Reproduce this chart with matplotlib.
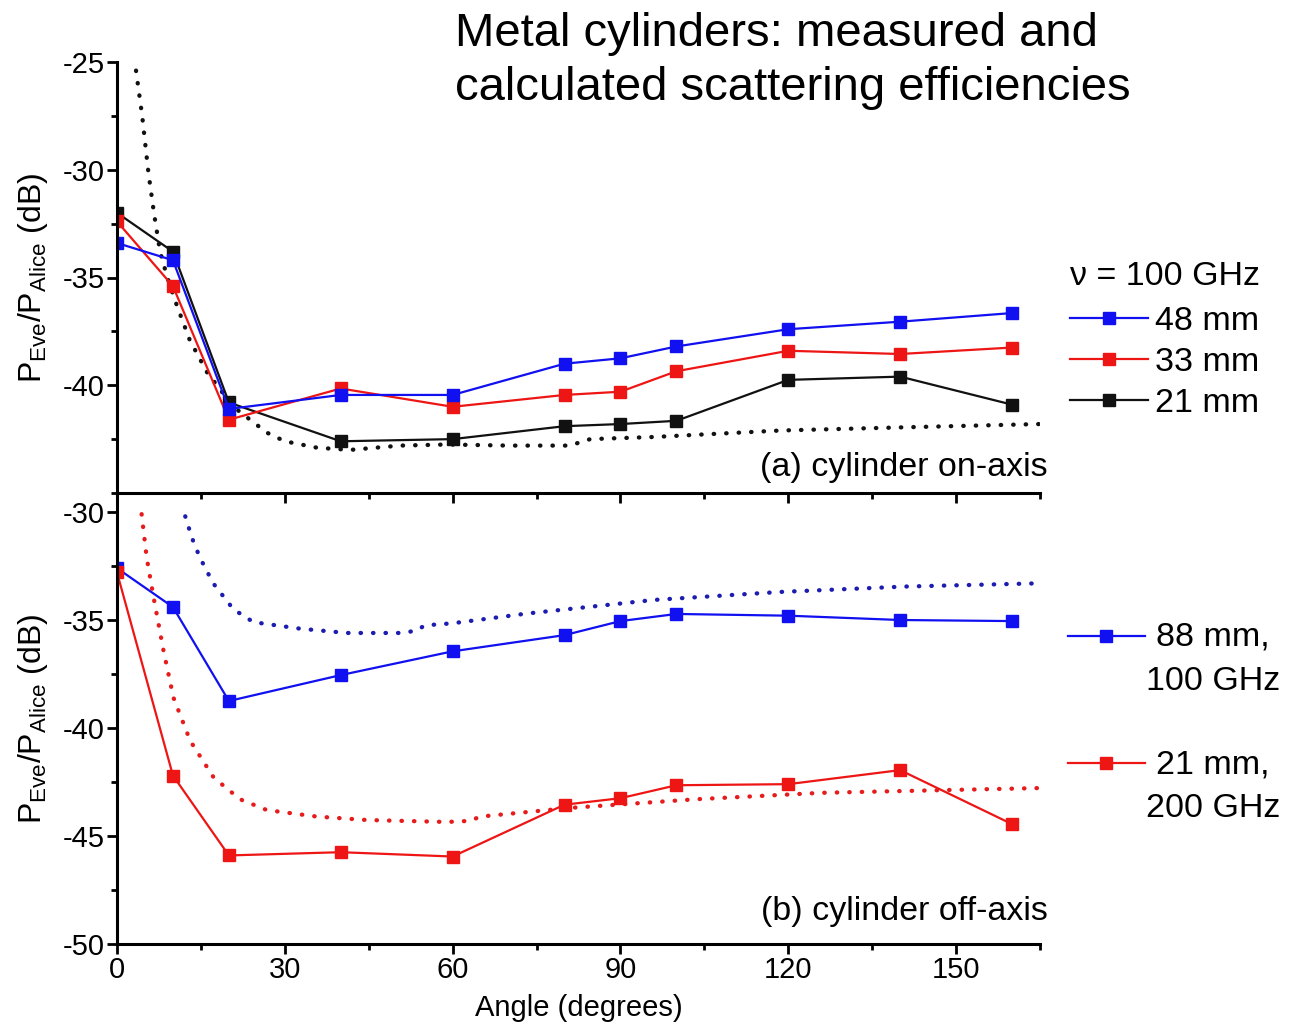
# -*- coding: utf-8 -*-
import matplotlib
matplotlib.use('Agg')
import matplotlib.pyplot as plt
from matplotlib.lines import Line2D
from matplotlib.ticker import MultipleLocator

plt.rcParams['font.family'] = ['Liberation Sans', 'DejaVu Sans']
plt.rcParams['mathtext.default'] = 'regular'
plt.rcParams['axes.unicode_minus'] = False

# measured angles (degrees)
angles = [0, 10, 20, 40, 60, 80, 90, 100, 120, 140, 160]

# (a) cylinder on-axis, 100 GHz, measured
on_48mm = [-33.4, -34.2, -41.1, -40.45, -40.45, -39.0, -38.75, -38.2, -37.4, -37.05, -36.65]
on_33mm = [-32.4, -35.4, -41.6, -40.15, -41.0, -40.45, -40.3, -39.35, -38.4, -38.55, -38.25]
on_21mm = [-32.0, -33.8, -40.8, -42.6, -42.5, -41.9, -41.8, -41.65, -39.75, -39.6, -40.9]

# (a) calculated (dotted)
calc_a_x = [3.4, 4.5, 5.6, 6.6, 7.7, 9.0, 10.7, 13.0, 16.1, 20.8, 26.8, 30.0, 35.8, 41.7,
            50.6, 59.0, 70.0, 80.9, 84.6, 96.0, 118.6, 141.0, 165.0]
calc_a_y = [-25.4, -27.5, -30.1, -32.0, -33.8, -35.0, -36.3, -37.9, -39.4, -41.0, -42.2, -42.6,
            -42.9, -43.0, -42.8, -42.75, -42.8, -42.8, -42.5, -42.4, -42.1, -41.95, -41.8]

# (b) cylinder off-axis, measured
off_88mm = [-32.6, -34.4, -38.75, -37.55, -36.45, -35.7, -35.05, -34.72, -34.8, -35.0, -35.05]
off_21mm = [-32.8, -42.2, -45.9, -45.75, -45.95, -43.55, -43.25, -42.65, -42.6, -41.95, -44.45]

# (b) calculated (dotted)
calc_b88_x = [12.2, 13.4, 14.8, 17.2, 20.8, 24.4, 32.7, 41.1, 50.6, 53.5, 55.0, 60.0,
              73.3, 96.0, 118.6, 141.0, 165.0]
calc_b88_y = [-30.2, -31.2, -32.1, -33.3, -34.5, -35.1, -35.4, -35.6, -35.6, -35.5, -35.25,
              -35.15, -34.7, -34.07, -33.7, -33.45, -33.3]
calc_b21_x = [4.4, 5.3, 6.5, 8.3, 10.1, 13.1, 17.3, 22.0, 26.8, 35.7, 44.7, 59.0, 63.0,
              65.0, 80.9, 103.4, 126.0, 148.8, 165.0]
calc_b21_y = [-30.1, -32.1, -33.9, -36.4, -38.6, -40.6, -42.3, -43.3, -43.8, -44.1, -44.26,
              -44.35, -44.3, -44.1, -43.7, -43.3, -43.0, -42.87, -42.78]

BLUE = '#1010f0'
RED = '#ee1515'
BLACK = '#111111'

fig = plt.figure(figsize=(12.89, 10.27), dpi=100, facecolor='w')
W, H = 1289.0, 1027.0
ax1 = fig.add_axes([117 / W, 1 - 493 / H, 923 / W, 431 / H])
ax2 = fig.add_axes([117 / W, 1 - 944 / H, 923 / W, 451 / H])

mk = dict(marker='s', markersize=9, linewidth=1.6)
dot = dict(linestyle=(0, (0.1, 2.8)), linewidth=3.1, dash_capstyle='round')

ax1.plot(calc_a_x, calc_a_y, color=BLACK, **dot)
l21, = ax1.plot(angles, on_21mm, color=BLACK, label='21 mm', **mk)
l33, = ax1.plot(angles, on_33mm, color=RED, label='33 mm', **mk)
l48, = ax1.plot(angles, on_48mm, color=BLUE, label='48 mm', **mk)

ax2.plot(calc_b88_x, calc_b88_y, color='#1c1cb0', **dot)
ax2.plot(calc_b21_x, calc_b21_y, color='#e61c1c', **dot)
ax2.plot(angles, off_88mm, color=BLUE, **mk)
ax2.plot(angles, off_21mm, color=RED, **mk)

for ax in (ax1, ax2):
    ax.set_xlim(0, 165)
    ax.xaxis.set_major_locator(MultipleLocator(30))
    ax.xaxis.set_minor_locator(MultipleLocator(15))
    ax.yaxis.set_minor_locator(MultipleLocator(2.5))
    ax.spines['right'].set_visible(False)
    ax.spines['top'].set_visible(False)
    for s in ('left', 'bottom'):
        ax.spines[s].set_linewidth(2.2)
    ax.tick_params(which='major', direction='out', length=7, width=2, labelsize=21, pad=2)
    ax.tick_params(which='minor', direction='out', length=4, width=2)
    ax.set_ylabel(r'P$_{Eve}$/P$_{Alice}$ (dB)', fontsize=23)
    ax.yaxis.set_label_coords(-0.073, 0.5)
    ax.patch.set_alpha(0)

ax1.set_ylim(-45, -25)
ax1.set_yticks([-40, -35, -30, -25])
ax1.tick_params(axis='x', labelbottom=False)
ax2.set_ylim(-50, -29.12)
ax2.set_yticks([-50, -45, -40, -35, -30])
ax2.set_xlabel('Angle (degrees)', fontsize=21, labelpad=7)

ax1.text(1.008, 0.06, '(a) cylinder on-axis', transform=ax1.transAxes,
         ha='right', va='center', fontsize=24.5)
ax2.text(1.008, 0.071, '(b) cylinder off-axis', transform=ax2.transAxes,
         ha='right', va='center', fontsize=24.5)

leg = ax1.legend(handles=[l48, l33, l21], title='ν = 100 GHz', loc='upper left',
                 bbox_to_anchor=(1070 / W, 1 - 261 / H), bbox_transform=fig.transFigure,
                 frameon=False, fontsize=24.5, title_fontsize=24.5, handlelength=2.3,
                 handletextpad=0.2, labelspacing=0.3, borderpad=0, borderaxespad=0,
                 alignment='left')
leg._legend_box.sep = 10

# legend for panel (b): handle beside the first line of a two-line label
for color, label, yy in ((BLUE, '88 mm,\n100 GHz', 636), (RED, '21 mm,\n200 GHz', 763)):
    fig.add_artist(Line2D([1068 / W, 1106 / W, 1145 / W], [1 - yy / H] * 3,
                          transform=fig.transFigure, color=color, linewidth=1.6,
                          marker='s', markersize=8, markevery=[1]))
    fig.text(1213 / W, 1 - (yy - 14) / H, label, ha='center', va='top',
             fontsize=24.5, linespacing=1.55)

fig.text(455 / W, 1 - 12 / H, 'Metal cylinders: measured and\ncalculated scattering efficiencies',
         ha='left', va='top', fontsize=34, linespacing=1.3)

fig.savefig('out.png', dpi=100)
